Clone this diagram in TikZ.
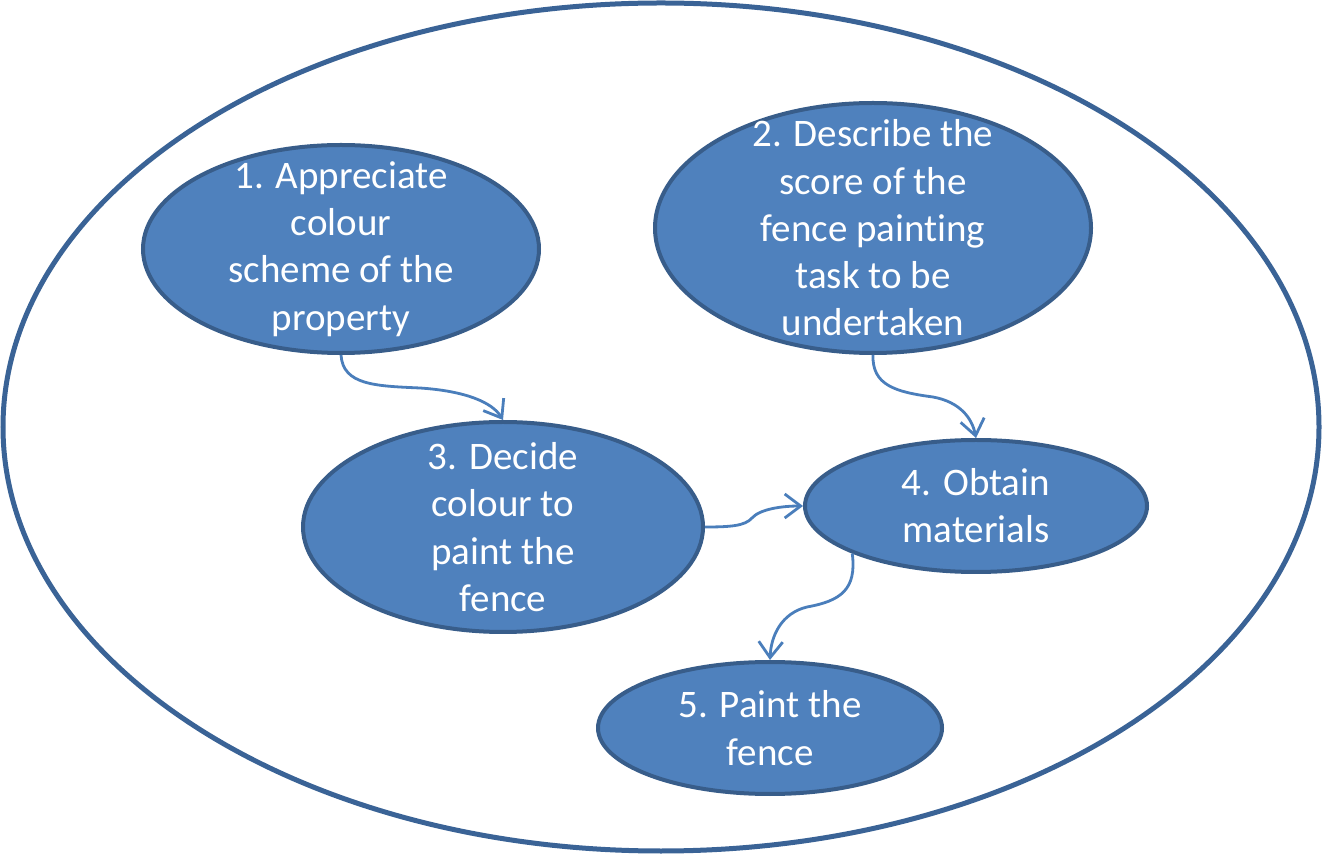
\documentclass[tikz,border=0pt]{standalone}
\usepackage{fontspec}
\setmainfont{Carlito}[RawFeature=-liga]
\usetikzlibrary{shapes.geometric,arrows.meta}
\definecolor{stepfill}{HTML}{4F81BD}
\definecolor{stepline}{HTML}{385D8A}
\definecolor{outerline}{HTML}{3A6396}
\definecolor{linkcol}{HTML}{4A7EBB}
\tikzset{
  stepbox/.style={ellipse, draw=stepline, line width=2pt, fill=stepfill,
    inner sep=0pt},
  steptext/.style={text=white, inner sep=0pt, align=center,
    font=\fontsize{19.5pt}{23.6pt}\selectfont},
  link/.style={draw=linkcol, line width=1.4pt,
    -{Straight Barb[length=8pt,width=12pt]}}
}
\begin{document}
\begin{tikzpicture}[x=0.5pt,y=-0.5pt]
\useasboundingbox (0,0) rectangle (1322,854);
% enclosing boundary
\node[ellipse, draw=outerline, line width=2.5pt, minimum width=658pt, minimum height=424pt, inner sep=0pt] (outer) at (661,427) {};
% process steps: fixed-size ellipses, text set on top
\node[stepbox, minimum width=198pt, minimum height=104pt] (e1) at (341,249) {};
\node[stepbox, minimum width=218pt, minimum height=125pt] (e2) at (873,228) {};
\node[stepbox, minimum width=200pt, minimum height=105pt] (e3) at (503,527) {};
\node[stepbox, minimum width=171pt, minimum height=66pt] (e4) at (976,506) {};
\node[stepbox, minimum width=172pt, minimum height=66pt] (e5) at (770,728) {};
\node[steptext] (t1) at (e1) {1. Appreciate\\colour\\scheme of the\\property};
\node[steptext] (t2) at (e2) {2. Describe the\\score of the\\fence painting\\task to be\\undertaken};
\node[steptext] (t3) at (e3) {3. Decide\\colour to\\paint the\\fence};
\node[steptext] (t4) at (e4) {4. Obtain\\materials};
\node[steptext] (t5) at (e5) {5. Paint the\\fence};
% connectors
\path[link] (e1.south) .. controls (343,385) and (375,386) .. (420,388)
  .. controls (465,391) and (492,402) .. (e3.north);
\path[link] (e3.east) .. controls (730,527) and (745,526) .. (752,518)
  .. controls (760,509) and (782,506) .. (e4.west);
\path[link] (e2.south) .. controls (872,385) and (895,392) .. (933,397)
  .. controls (960,402) and (972,418) .. (e4.north);
\path[link] (e4.201) .. controls (857,590) and (840,601) .. (807,607)
  .. controls (782,613) and (771,635) .. (e5.north);
\end{tikzpicture}
\end{document}
